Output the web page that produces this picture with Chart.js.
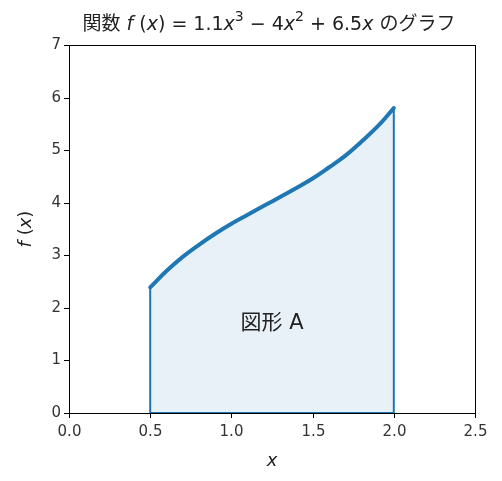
<!DOCTYPE html>
<html>
<head>
<meta charset="utf-8">
<script src="https://cdn.jsdelivr.net/npm/chart.js@4"></script>
<style>
  html, body { margin: 0; padding: 0; background: #fff; }
  #wrap { width: 502px; height: 481px; }
</style>
</head>
<body>
<div id="wrap"><canvas id="myChart" width="502" height="481"></canvas></div>
<script>
// values
const xValues = [0.5, 0.6, 0.7, 0.8, 0.9, 1.0, 1.1, 1.2, 1.3, 1.4, 1.5, 1.6, 1.7, 1.8, 1.9, 2.0];
const fValues = [2.39, 2.70, 2.97, 3.20, 3.41, 3.60, 3.77, 3.94, 4.11, 4.28, 4.46, 4.67, 4.89, 5.16, 5.45, 5.80];
const xTicks = [0.0, 0.5, 1.0, 1.5, 2.0, 2.5];
const yTicks = [0, 1, 2, 3, 4, 5, 6, 7];
const areaLabel = "図形 A";
const areaLabelPos = [1.25, 1.7];

const blue = "#1f77b4";
const jpFont = "'DejaVu Sans', 'Noto Sans CJK JP', sans-serif";

const curvePoints = xValues.map((x, i) => ({ x: x, y: fValues[i] }));
const last = xValues.length - 1;
// left edge, bottom, right edge of the area
const edgePoints = [
  { x: xValues[0], y: fValues[0] },
  { x: xValues[0], y: 0 },
  { x: xValues[last], y: 0 },
  { x: xValues[last], y: fValues[last] },
];

// draws frame, ticks, labels and title like matplotlib
const axesPlugin = {
  id: "axesPlugin",
  afterDraw(chart) {
    const ctx = chart.ctx;
    const a = chart.chartArea;
    const xs = chart.scales.x;
    const ys = chart.scales.y;
    ctx.save();

    // area label
    ctx.fillStyle = "#222";
    ctx.font = "21px " + jpFont;
    ctx.textAlign = "center";
    ctx.textBaseline = "middle";
    ctx.fillText(areaLabel, xs.getPixelForValue(areaLabelPos[0]), ys.getPixelForValue(areaLabelPos[1]));

    // frame
    ctx.strokeStyle = "#000";
    ctx.lineWidth = 1;
    ctx.strokeRect(Math.round(a.left) + 0.5, Math.round(a.top) + 0.5, Math.round(a.right - a.left), Math.round(a.bottom - a.top));

    ctx.fillStyle = "#333";
    ctx.font = "15px 'DejaVu Sans', sans-serif";

    // x ticks
    ctx.textAlign = "center";
    ctx.textBaseline = "top";
    xTicks.forEach((t) => {
      const px = Math.round(xs.getPixelForValue(t)) + 0.5;
      ctx.beginPath();
      ctx.moveTo(px, a.bottom);
      ctx.lineTo(px, a.bottom + 5);
      ctx.stroke();
      ctx.fillText(t.toFixed(1), px, a.bottom + 12);
    });

    // y ticks
    ctx.textAlign = "right";
    ctx.textBaseline = "middle";
    yTicks.forEach((t) => {
      const py = Math.round(ys.getPixelForValue(t)) + 0.5;
      ctx.beginPath();
      ctx.moveTo(a.left, py);
      ctx.lineTo(a.left - 5, py);
      ctx.stroke();
      ctx.fillText(String(t), a.left - 8, py);
    });

    // axis labels
    ctx.fillStyle = "#222";
    ctx.font = "italic 18px 'DejaVu Sans', sans-serif";
    ctx.textAlign = "center";
    ctx.textBaseline = "middle";
    ctx.fillText("x", (a.left + a.right) / 2, a.bottom + 48);

    ctx.save();
    ctx.translate(26, (a.top + a.bottom) / 2);
    ctx.rotate(-Math.PI / 2);
    drawRuns(ctx, [["italic", "f"], ["normal", " ("], ["italic", "x"], ["normal", ")"]], 0, 0, 18);
    ctx.restore();

    // title
    drawRuns(ctx, [
      ["normal", "関数 "], ["italic", "f"], ["normal", " ("], ["italic", "x"], ["normal", ") = 1.1"],
      ["italic", "x"], ["sup", "3"], ["normal", " − 4"], ["italic", "x"], ["sup", "2"],
      ["normal", " + 6.5"], ["italic", "x"], ["normal", " のグラフ"],
    ], (a.left + a.right) / 2 - 3, a.top - 20, 19);

    ctx.restore();
  },
};

// text made of normal / italic / superscript parts, centred on cx
function drawRuns(ctx, runs, cx, cy, size) {
  const fontOf = (kind) => {
    if (kind === "italic") return "italic " + size + "px " + jpFont;
    if (kind === "sup") return Math.round(size * 0.72) + "px " + jpFont;
    return size + "px " + jpFont;
  };
  let total = 0;
  runs.forEach((r) => {
    ctx.font = fontOf(r[0]);
    total += ctx.measureText(r[1]).width;
  });
  let x = cx - total / 2;
  ctx.textAlign = "left";
  ctx.textBaseline = "middle";
  ctx.fillStyle = "#222";
  runs.forEach((r) => {
    ctx.font = fontOf(r[0]);
    const dy = r[0] === "sup" ? -size * 0.4 : 0;
    ctx.fillText(r[1], x, cy + dy);
    x += ctx.measureText(r[1]).width;
  });
}

const ctx = document.getElementById("myChart").getContext("2d");

new Chart(ctx, {
  type: "line",
  data: {
    datasets: [
      {
        label: "f(x)",
        data: curvePoints,
        borderColor: blue,
        borderWidth: 4,
        backgroundColor: "rgba(31, 119, 180, 0.1)",
        fill: "origin",
        pointRadius: 0,
        tension: 0.4,
        borderCapStyle: "round",
      },
      {
        label: "edges",
        data: edgePoints,
        borderColor: blue,
        borderWidth: 2,
        fill: false,
        pointRadius: 0,
        tension: 0,
      },
    ],
  },
  options: {
    responsive: false,
    animation: false,
    layout: { padding: { left: 69, right: 27, top: 45, bottom: 68 } },
    plugins: {
      legend: { display: false },
      tooltip: { enabled: false },
      title: { display: false },
    },
    scales: {
      x: { type: "linear", min: 0, max: 2.5, display: false },
      y: { type: "linear", min: 0, max: 7, display: false },
    },
  },
  plugins: [axesPlugin],
});
</script>
</body>
</html>
